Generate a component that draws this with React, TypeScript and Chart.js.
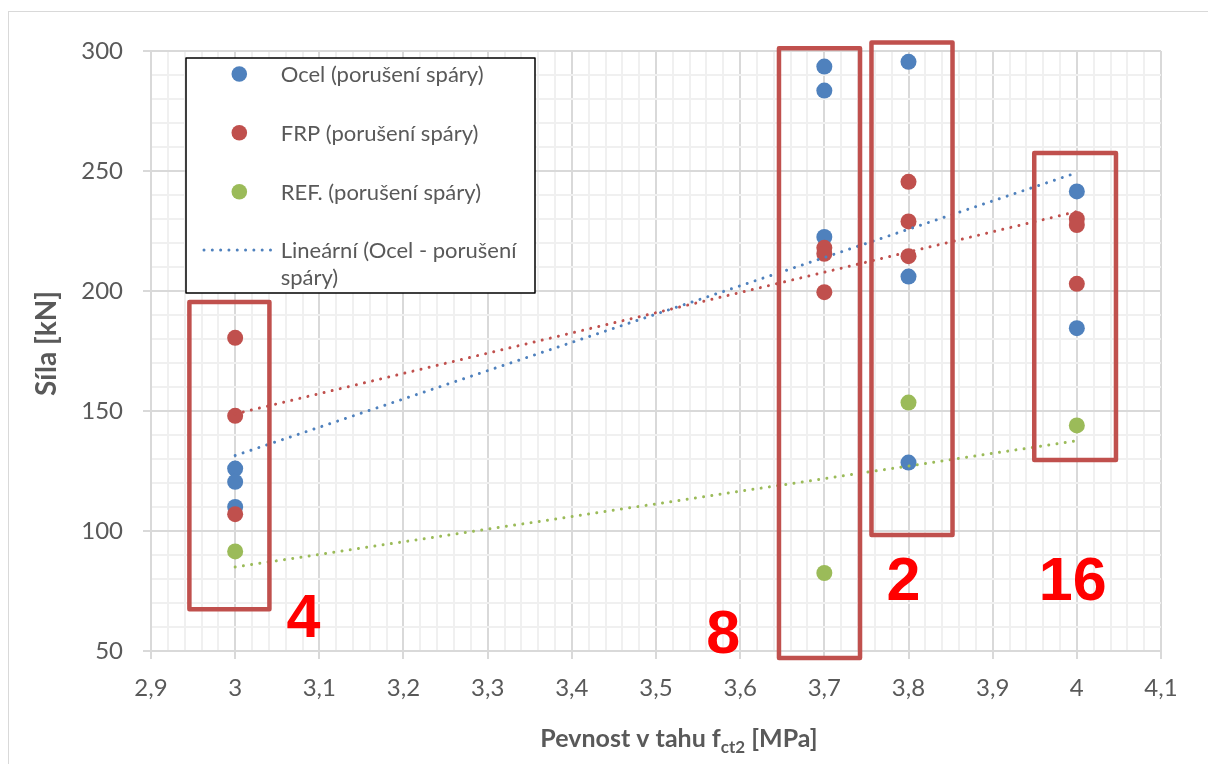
import React, { useEffect, useRef } from 'react';
import { Chart, registerables } from 'chart.js';

Chart.register(...registerables);

// ---- data ----
const ocelX = [3, 3, 3, 3.7, 3.7, 3.7, 3.8, 3.8, 3.8, 4, 4];
const ocelY = [126, 120.5, 110, 293.5, 283.5, 222.5, 295.5, 206, 128.5, 241.5, 184.5];
const frpX = [3, 3, 3, 3.7, 3.7, 3.7, 3.8, 3.8, 3.8, 4, 4, 4];
const frpY = [180.5, 148, 107, 218, 215.5, 199.5, 245.5, 229, 214.5, 230, 227.5, 203];
const refX = [3, 3.7, 3.8, 4];
const refY = [91.5, 82.5, 153.5, 144];

const seriesLabels = ['Ocel (porušení spáry)', 'FRP (porušení spáry)', 'REF. (porušení spáry)'];
const trendLegendLines = ['Lineární (Ocel - porušení', 'spáry)'];

const xMin = 2.9;
const xMax = 4.1;
const xMajor = 0.1;
const xMinor = 0.02;
const yMin = 50;
const yMax = 300;
const yMajor = 50;
const yMinor = 10;

const xTitleMain = 'Pevnost v tahu f';
const xTitleSub = 'ct2';
const xTitleEnd = ' [MPa]';
const yTitle = 'Síla [kN]';

// annotation rectangles (data units) and their count labels
const boxX0 = [2.9456, 3.6461, 3.756, 3.9494];
const boxX1 = [3.0407, 3.7424, 3.8523, 4.0465];
const boxYTop = [195.4, 301.1, 303.5, 257.5];
const boxYBottom = [67.4, 47.1, 98.3, 129.6];
const countText = ['4', '8', '2', '16'];
const countX = [3.081, 3.58, 3.794, 3.995];
const countY = [62.9, 56.3, 78.3, 78.3];

// ---- styles ----
const BLUE = '#4F81BD';
const RED = '#C0504D';
const GREEN = '#9BBB59';
const TEXT = '#595959';
const FONT = 'Lato, "Open Sans", sans-serif';
const DOT_R = 8;

function isMajor(v: number, step: number) {
  const q = v / step;
  return Math.abs(q - Math.round(q)) < 1e-6;
}
function fmt(v: number) {
  return String(Math.round(v * 10) / 10).replace('.', ',');
}
function pts(xs: number[], ys: number[]) {
  return xs.map((x, i) => ({ x, y: ys[i] }));
}
// least-squares linear trendline (as the original chart's "Lineární" trendline)
function trend(xs: number[], ys: number[]) {
  const n = xs.length;
  const mx = xs.reduce((a, b) => a + b, 0) / n;
  const my = ys.reduce((a, b) => a + b, 0) / n;
  let sxy = 0;
  let sxx = 0;
  for (let i = 0; i < n; i++) {
    sxy += (xs[i] - mx) * (ys[i] - my);
    sxx += (xs[i] - mx) * (xs[i] - mx);
  }
  const k = sxy / sxx;
  const q = my - k * mx;
  const a = Math.min(...xs);
  const b = Math.max(...xs);
  return [
    { x: a, y: k * a + q },
    { x: b, y: k * b + q },
  ];
}

const overlayPlugin = {
  id: 'overlay',
  afterDraw(chart: any) {
    const ctx: CanvasRenderingContext2D = chart.ctx;
    const xs = chart.scales.x;
    const ys = chart.scales.y;
    ctx.save();

    // rectangles
    ctx.strokeStyle = RED;
    ctx.lineWidth = 4.5;
    ctx.lineJoin = 'round';
    for (let i = 0; i < boxX0.length; i++) {
      const l = xs.getPixelForValue(boxX0[i]);
      const r = xs.getPixelForValue(boxX1[i]);
      const t = ys.getPixelForValue(boxYTop[i]);
      const b = ys.getPixelForValue(boxYBottom[i]);
      ctx.strokeRect(l, t, r - l, b - t);
    }

    // count labels
    ctx.fillStyle = '#FF0000';
    ctx.font = 'bold 61px "Liberation Sans", Arial, sans-serif';
    ctx.textAlign = 'center';
    ctx.textBaseline = 'middle';
    for (let i = 0; i < countText.length; i++) {
      ctx.fillText(countText[i], xs.getPixelForValue(countX[i]), ys.getPixelForValue(countY[i]));
    }

    // legend
    const lx = 178;
    const ly = 50;
    const lw = 349;
    const lh = 235;
    ctx.fillStyle = '#fff';
    ctx.fillRect(lx, ly, lw, lh);
    ctx.strokeStyle = '#000';
    ctx.lineWidth = 1.5;
    ctx.strokeRect(lx, ly, lw, lh);
    const colors = [BLUE, RED, GREEN];
    const rows = [66, 124.7, 183.7];
    ctx.font = `22px ${FONT}`;
    ctx.textAlign = 'left';
    ctx.textBaseline = 'middle';
    for (let i = 0; i < 3; i++) {
      ctx.fillStyle = colors[i];
      ctx.beginPath();
      ctx.arc(231.3, rows[i], 7.8, 0, Math.PI * 2);
      ctx.fill();
      ctx.fillStyle = TEXT;
      ctx.fillText(seriesLabels[i], 272.7, rows[i] + 1);
    }
    ctx.strokeStyle = BLUE;
    ctx.lineWidth = 3;
    ctx.lineCap = 'round';
    ctx.setLineDash([0.01, 8.3]);
    ctx.beginPath();
    ctx.moveTo(196, 242);
    ctx.lineTo(266, 242);
    ctx.stroke();
    ctx.setLineDash([]);
    ctx.fillStyle = TEXT;
    ctx.fillText(trendLegendLines[0], 272.7, 243);
    ctx.fillText(trendLegendLines[1], 272.7, 270);

    // x title with subscript
    const big = `bold 25px ${FONT}`;
    const small = `bold 17px ${FONT}`;
    ctx.font = big;
    const w1 = ctx.measureText(xTitleMain).width;
    const w3 = ctx.measureText(xTitleEnd).width;
    ctx.font = small;
    const w2 = ctx.measureText(xTitleSub).width;
    const total = w1 + w2 + w3;
    let cx = 671 - total / 2;
    const base = 738.7;
    ctx.textAlign = 'left';
    ctx.textBaseline = 'alphabetic';
    ctx.fillStyle = TEXT;
    ctx.font = big;
    ctx.fillText(xTitleMain, cx, base);
    cx += w1;
    ctx.font = small;
    ctx.fillText(xTitleSub, cx, base + 6);
    cx += w2;
    ctx.font = big;
    ctx.fillText(xTitleEnd, cx, base);

    // y title
    ctx.font = `bold 28px ${FONT}`;
    ctx.translate(48, 335.5);
    ctx.rotate(-Math.PI / 2);
    ctx.textAlign = 'center';
    ctx.fillText(yTitle, 0, 0);

    ctx.restore();
  },
};

function scatterSet(label: string, xs: number[], ys: number[], color: string, order: number) {
  return {
    label,
    data: pts(xs, ys),
    backgroundColor: color,
    borderColor: color,
    borderWidth: 0,
    pointRadius: DOT_R,
    pointHoverRadius: DOT_R,
    order,
  };
}
function trendSet(label: string, xs: number[], ys: number[], color: string) {
  return {
    type: 'line',
    label,
    data: trend(xs, ys),
    borderColor: color,
    borderWidth: 3,
    borderDash: [0.01, 8.3],
    borderCapStyle: 'round',
    pointRadius: 0,
    showLine: true,
    fill: false,
    order: 0,
  } as any;
}

export default function App() {
  const ref = useRef<HTMLCanvasElement>(null);
  useEffect(() => {
    const canvas = ref.current;
    if (!canvas) return;
    const chart = new Chart(canvas, {
      type: 'scatter',
      data: {
        datasets: [
          scatterSet(seriesLabels[0], ocelX, ocelY, BLUE, 3),
          scatterSet(seriesLabels[1], frpX, frpY, RED, 2),
          scatterSet(seriesLabels[2], refX, refY, GREEN, 1),
          trendSet('Lineární (Ocel - porušení spáry)', ocelX, ocelY, BLUE),
          trendSet('Lineární (FRP - porušení spáry)', frpX, frpY, RED),
          trendSet('Lineární (REF. - porušení spáry)', refX, refY, GREEN),
        ],
      },
      options: {
        animation: false,
        responsive: false,
        devicePixelRatio: 1,
        layout: { padding: { top: 43, right: 47, left: 0, bottom: 0 } },
        plugins: {
          legend: { display: false },
          tooltip: { enabled: false },
        },
        scales: {
          x: {
            type: 'linear',
            min: xMin,
            max: xMax,
            afterFit: (s: any) => {
              s.height = 113;
            },
            ticks: {
              stepSize: xMinor,
              autoSkip: false,
              maxRotation: 0,
              minRotation: 0,
              padding: 15,
              color: TEXT,
              font: { family: FONT, size: 24 },
              callback: (v: any) => (isMajor(Number(v), xMajor) ? fmt(Number(v)) : ''),
            },
            grid: {
              color: (c: any) => (c.tick && isMajor(c.tick.value, xMajor) ? '#d9d9d9' : '#f0f0f0'),
              tickColor: (c: any) => (c.tick && isMajor(c.tick.value, xMajor) ? '#d9d9d9' : 'rgba(0,0,0,0)'),
              lineWidth: 2,
              tickLength: 8,
              drawTicks: true,
            },
            border: { display: true, color: '#d9d9d9', width: 2 },
          },
          y: {
            type: 'linear',
            min: yMin,
            max: yMax,
            afterFit: (s: any) => {
              s.width = 143;
            },
            ticks: {
              stepSize: yMinor,
              autoSkip: false,
              padding: 20,
              color: TEXT,
              font: { family: FONT, size: 24 },
              callback: (v: any) => (isMajor(Number(v), yMajor) ? String(v) : ''),
            },
            grid: {
              color: (c: any) => (c.tick && isMajor(c.tick.value, yMajor) ? '#d9d9d9' : '#f0f0f0'),
              tickColor: (c: any) => (c.tick && isMajor(c.tick.value, yMajor) ? '#d9d9d9' : 'rgba(0,0,0,0)'),
              lineWidth: 2,
              tickLength: 8,
              drawTicks: true,
            },
            border: { display: true, color: '#d9d9d9', width: 2 },
          },
        },
      },
      plugins: [overlayPlugin],
    } as any);
    return () => chart.destroy();
  }, []);

  return (
    <div style={{ position: 'relative', width: 1200, height: 756, overflow: 'hidden', background: '#fff' }}>
      <div
        style={{
          position: 'absolute',
          left: 0,
          top: 3,
          width: 1400,
          height: 1000,
          borderLeft: '1.5px solid #d9d9d9',
          borderTop: '1.5px solid #d9d9d9',
        }}
      />
      <canvas
        ref={ref}
        width={1200}
        height={756}
        style={{ position: 'absolute', left: 0, top: 0, width: 1200, height: 756 }}
      />
    </div>
  );
}
